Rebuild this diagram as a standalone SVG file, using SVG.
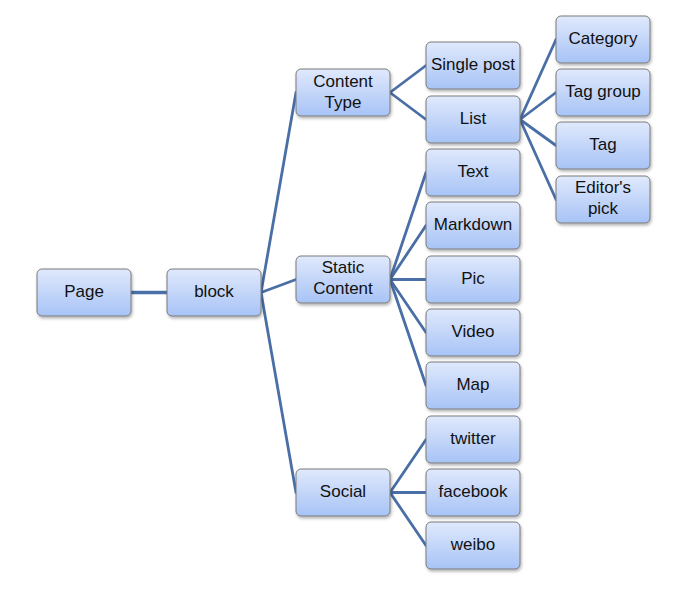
<svg xmlns="http://www.w3.org/2000/svg" width="689" height="599" viewBox="0 0 689 599">
<defs>
<linearGradient id="g" x1="0" y1="0" x2="0" y2="1">
<stop offset="0" stop-color="#E0E9FC"/>
<stop offset="1" stop-color="#A7C3F6"/>
</linearGradient>
<filter id="sh" x="-10%" y="-10%" width="130%" height="140%">
<feDropShadow dx="1" dy="2" stdDeviation="1.5" flood-color="#000" flood-opacity="0.3"/>
</filter>
</defs>
<style>
.n rect{fill:url(#g);stroke:#7A7A7A;stroke-width:1;filter:url(#sh)}
.n text{font-family:"Liberation Sans",Arial,sans-serif;font-size:17px;fill:#111;text-anchor:middle}
#connectors line{stroke:#4A6FA6;stroke-width:2.8;stroke-linecap:round}
</style>
<rect width="689" height="599" fill="#fff"/>
<g id="connectors">
<line x1="131" y1="292.5" x2="167" y2="292.5" style="stroke-width:3.5"/>
<line x1="261" y1="292.5" x2="296" y2="92.5"/>
<line x1="261" y1="292.5" x2="296" y2="279.5"/>
<line x1="261" y1="292.5" x2="296" y2="492.5"/>
<line x1="390" y1="92.5" x2="426" y2="65.5"/>
<line x1="390" y1="92.5" x2="426" y2="119.5"/>
<line x1="390" y1="279.5" x2="426" y2="172.5"/>
<line x1="390" y1="279.5" x2="426" y2="225.5"/>
<line x1="390" y1="279.5" x2="426" y2="279.5"/>
<line x1="390" y1="279.5" x2="426" y2="332.5"/>
<line x1="390" y1="279.5" x2="426" y2="385.5"/>
<line x1="390" y1="492.5" x2="426" y2="439.5"/>
<line x1="390" y1="492.5" x2="426" y2="492.5"/>
<line x1="390" y1="492.5" x2="426" y2="545.5"/>
<line x1="520" y1="119.5" x2="556" y2="39.5"/>
<line x1="520" y1="119.5" x2="556" y2="92.5"/>
<line x1="520" y1="119.5" x2="556" y2="145.5"/>
<line x1="520" y1="119.5" x2="556" y2="199.5"/>
</g>
<g id="page" class="n"><rect x="37" y="269" width="94" height="47" rx="5"/><text x="84" y="297">Page</text></g>
<g id="block" class="n"><rect x="167" y="269" width="94" height="47" rx="5"/><text x="214" y="297">block</text></g>
<g id="content-type" class="n"><rect x="296" y="69" width="94" height="47" rx="5"/><text x="343" y="86.5">Content</text><text x="343" y="107.5">Type</text></g>
<g id="static-content" class="n"><rect x="296" y="256" width="94" height="47" rx="5"/><text x="343" y="273">Static</text><text x="343" y="294">Content</text></g>
<g id="social" class="n"><rect x="296" y="469" width="94" height="47" rx="5"/><text x="343" y="497">Social</text></g>
<g id="single-post" class="n"><rect x="426" y="42" width="94" height="47" rx="5"/><text x="473" y="70">Single post</text></g>
<g id="list" class="n"><rect x="426" y="96" width="94" height="47" rx="5"/><text x="473" y="124">List</text></g>
<g id="text" class="n"><rect x="426" y="149" width="94" height="47" rx="5"/><text x="473" y="177">Text</text></g>
<g id="markdown" class="n"><rect x="426" y="202" width="94" height="47" rx="5"/><text x="473" y="230">Markdown</text></g>
<g id="pic" class="n"><rect x="426" y="256" width="94" height="47" rx="5"/><text x="473" y="284">Pic</text></g>
<g id="video" class="n"><rect x="426" y="309" width="94" height="47" rx="5"/><text x="473" y="337">Video</text></g>
<g id="map" class="n"><rect x="426" y="362" width="94" height="47" rx="5"/><text x="473" y="390">Map</text></g>
<g id="twitter" class="n"><rect x="426" y="416" width="94" height="47" rx="5"/><text x="473" y="444">twitter</text></g>
<g id="facebook" class="n"><rect x="426" y="469" width="94" height="47" rx="5"/><text x="473" y="497">facebook</text></g>
<g id="weibo" class="n"><rect x="426" y="522" width="94" height="47" rx="5"/><text x="473" y="550">weibo</text></g>
<g id="category" class="n"><rect x="556" y="16" width="94" height="47" rx="5"/><text x="603" y="44">Category</text></g>
<g id="tag-group" class="n"><rect x="556" y="69" width="94" height="47" rx="5"/><text x="603" y="97">Tag group</text></g>
<g id="tag" class="n"><rect x="556" y="122" width="94" height="47" rx="5"/><text x="603" y="150">Tag</text></g>
<g id="editors-pick" class="n"><rect x="556" y="176" width="94" height="47" rx="5"/><text x="603" y="193">Editor's</text><text x="603" y="214">pick</text></g>
</svg>
